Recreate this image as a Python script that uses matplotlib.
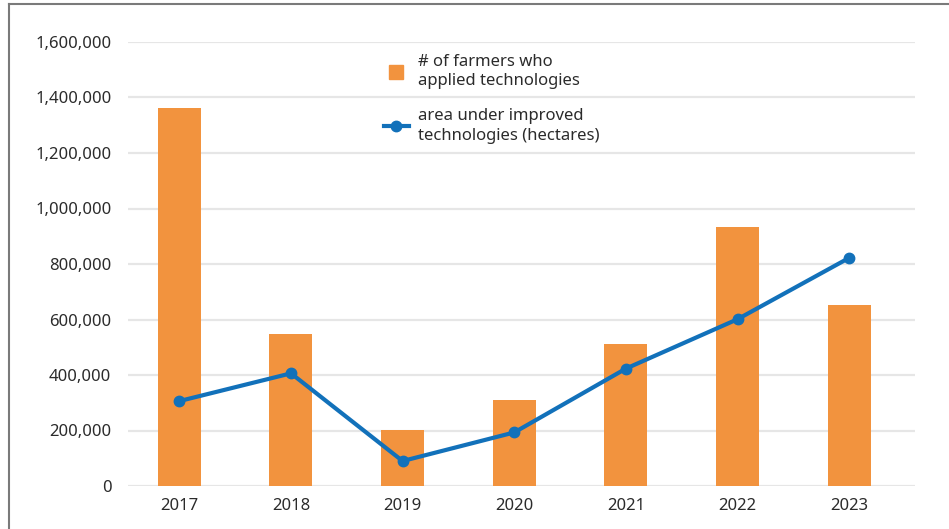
import numpy as np
import matplotlib
matplotlib.use("Agg")
import matplotlib.pyplot as plt
from matplotlib.lines import Line2D
from matplotlib.ticker import FuncFormatter

# --- datos ---
years = ["2017", "2018", "2019", "2020", "2021", "2022", "2023"]
farmers = [1362000, 548000, 202000, 310000, 512000, 935000, 653000]
area_ha = [306000, 406000, 90000, 193000, 423000, 601000, 822000]

ORANGE = "#F2933E"
BLUE = "#1271BA"
GRID = "#E6E6E6"
TXT = "#2B2B2B"

plt.rcParams["font.family"] = ["Noto Sans", "DejaVu Sans"]

fig = plt.figure(figsize=(9.49, 5.29), dpi=100)
W, H = 949, 529
ax = fig.add_axes([128 / W, 1 - 486 / H, (915 - 128) / W, (486 - 42) / H])

x = np.arange(len(years))
ax.bar(x, farmers, width=0.385, color=ORANGE, zorder=2)
ax.plot(x, area_ha, color=BLUE, lw=3, marker="o", ms=7.5, zorder=3)

ax.set_ylim(0, 1600000)
ax.set_xlim(-0.46, 6.59)
ax.set_yticks(np.arange(0, 1600001, 200000))
ax.yaxis.set_major_formatter(FuncFormatter(lambda v, p: f"{int(v):,}"))
ax.set_xticks(x, years)
ax.grid(axis="y", color=GRID, lw=1.6, zorder=0)
ax.set_axisbelow(True)
for s in ax.spines.values():
    s.set_visible(False)
ax.tick_params(length=0, labelsize=12, colors=TXT)
ax.tick_params(axis="y", pad=12)
ax.tick_params(axis="x", pad=9)

handles = [Line2D([], [], ls="", marker="s", ms=10.5, color=ORANGE),
           Line2D([], [], color=BLUE, lw=3, marker="o", ms=7.5)]
labels = ["# of farmers who\napplied technologies",
          "area under improved\ntechnologies (hectares)"]
leg = ax.legend(handles, labels, loc="upper left", bbox_to_anchor=(0.325, 0.974),
                frameon=False, fontsize=12, labelcolor=TXT, handlelength=1.5,
                handletextpad=0.55, labelspacing=1.15, borderpad=0, borderaxespad=0)
for t in leg.get_texts():
    t.set_linespacing(1.3)

# marco gris arriba e izquierda
fig.add_artist(Line2D([9 / W, 1], [1 - 4 / H, 1 - 4 / H], color="#7A7A7A",
                      lw=1.5, transform=fig.transFigure))
fig.add_artist(Line2D([9 / W, 9 / W], [0, 1 - 4 / H], color="#7A7A7A",
                      lw=1.5, transform=fig.transFigure))

fig.savefig("out.png", dpi=100)
